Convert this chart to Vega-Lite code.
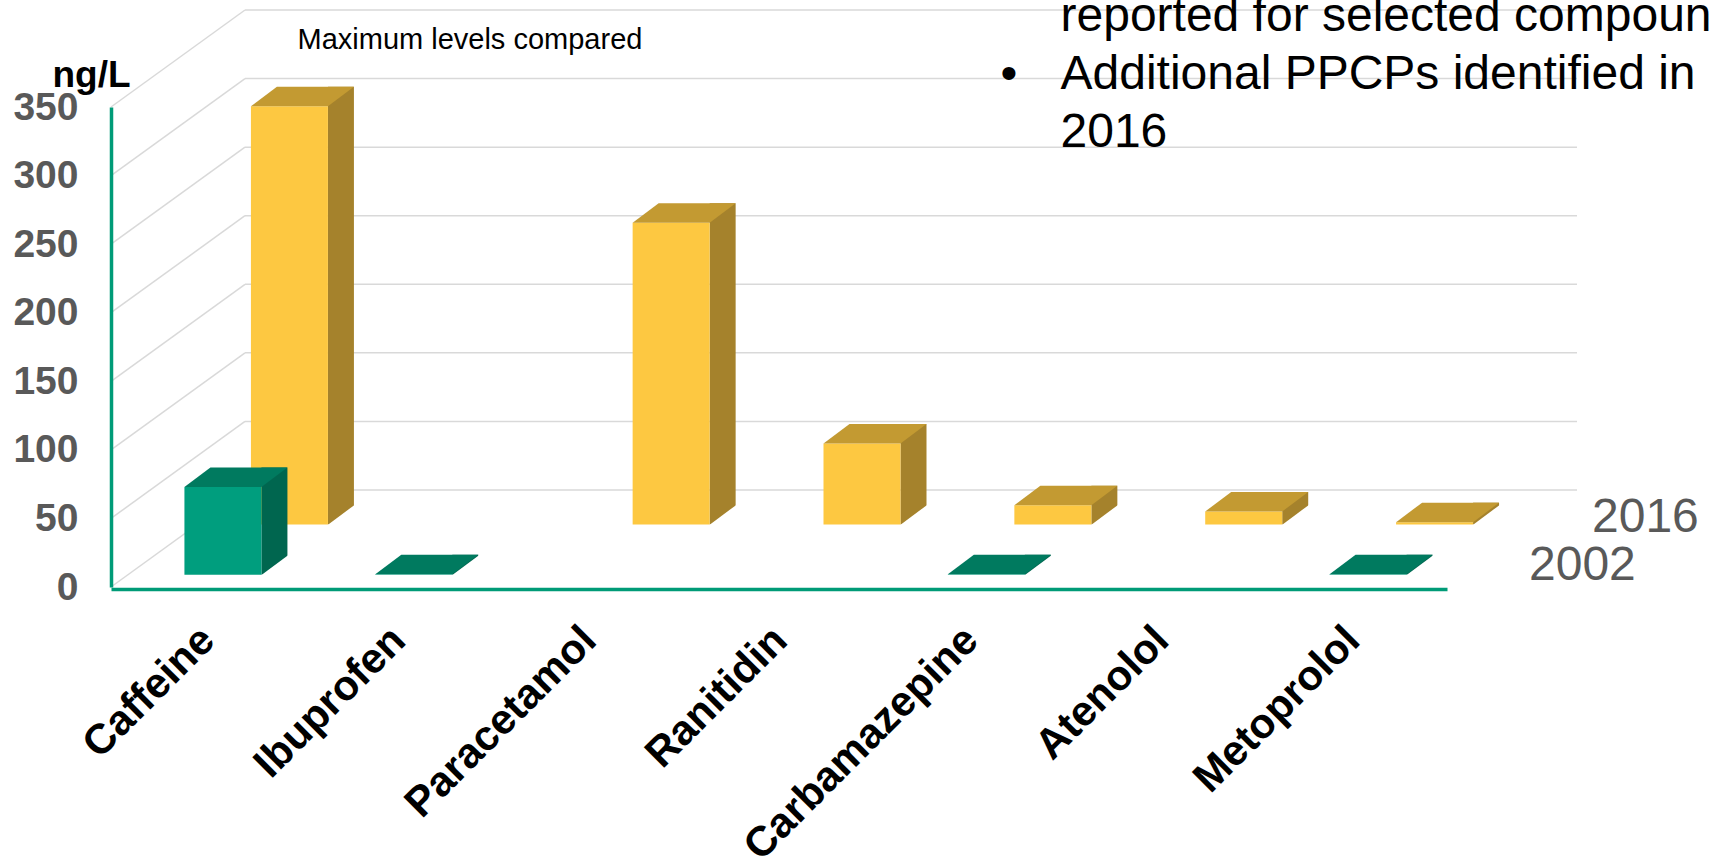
{
  "$schema": "https://vega.github.io/schema/vega-lite/v6.json",
  "autosize": {"type": "none"},
  "width": 1336,
  "height": 480,
  "padding": {"left": 111, "top": 107, "right": 263, "bottom": 269},
  "background": "white",
  "config": {
    "view": {"stroke": null},
    "font": "Liberation Sans",
    "axis": {"labelFont": "Liberation Sans", "titleFont": "Liberation Sans"},
    "text": {"font": "Liberation Sans"}
  },
  "datasets": {
    "levels": [
      {"compound": "Caffeine", "year": "2002", "value": 64},
      {"compound": "Ibuprofen", "year": "2002", "value": 0.4},
      {"compound": "Carbamazepine", "year": "2002", "value": 0.4},
      {"compound": "Metoprolol", "year": "2002", "value": 0.4},
      {"compound": "Caffeine", "year": "2016", "value": 305},
      {"compound": "Paracetamol", "year": "2016", "value": 220},
      {"compound": "Ranitidin", "year": "2016", "value": 59},
      {"compound": "Carbamazepine", "year": "2016", "value": 14},
      {"compound": "Atenolol", "year": "2016", "value": 9.5},
      {"compound": "Metoprolol", "year": "2016", "value": 1.7}
    ],
    "grid": [
      {"level": 0}, {"level": 50}, {"level": 100}, {"level": 150},
      {"level": 200}, {"level": 250}, {"level": 300}, {"level": 350}
    ]
  },
  "data": {"name": "levels"},
  "resolve": {"axis": {"x": "independent", "y": "independent"}},
  "layer": [
    {
      "description": "left wall gridlines running back in depth",
      "data": {"name": "grid"},
      "mark": {"type": "rule", "color": "#D9D9D9", "strokeWidth": 1.5, "x2Offset": 134, "y2Offset": -97},
      "encoding": {
        "x": {"datum": "Caffeine", "type": "nominal", "bandPosition": 0, "axis": null,
              "scale": {"type": "band", "domain": ["Caffeine", "Ibuprofen", "Paracetamol", "Ranitidin", "Carbamazepine", "Atenolol", "Metoprolol"], "paddingInner": 0, "paddingOuter": 0}},
        "x2": {"datum": "Caffeine", "bandPosition": 0},
        "y": {"field": "level", "type": "quantitative", "axis": null, "scale": {"domain": [0, 350], "nice": false}},
        "y2": {"field": "level"}
      }
    },
    {
      "description": "back wall gridlines",
      "data": {"name": "grid"},
      "mark": {"type": "rule", "color": "#D9D9D9", "strokeWidth": 1.5, "xOffset": 134, "x2Offset": 130, "yOffset": -97},
      "encoding": {
        "x": {"datum": "Caffeine", "type": "nominal", "bandPosition": 0, "axis": null,
              "scale": {"type": "band", "domain": ["Caffeine", "Ibuprofen", "Paracetamol", "Ranitidin", "Carbamazepine", "Atenolol", "Metoprolol"], "paddingInner": 0, "paddingOuter": 0}},
        "x2": {"datum": "Metoprolol", "bandPosition": 1},
        "y": {"field": "level", "type": "quantitative", "scale": {"domain": [0, 350], "nice": false},
              "axis": {"orient": "right", "zindex": 1, "labels": false, "ticks": false, "domain": false, "grid": false,
                       "title": ["reported for selected compounds", "Additional PPCPs identified in", "2016"],
                       "titleAngle": 0, "titleAlign": "left", "titleBaseline": "alphabetic",
                       "titleX": -387, "titleY": -77, "titleFontSize": 48, "titleFontWeight": "normal",
                       "titleColor": "#000000", "titleLineHeight": 58}}
      }
    },
    {
      "description": "2016 series: side faces",
      "transform": [{"filter": "datum.year === '2016'"}],
      "mark": {"type": "bar", "width": 26, "xOffset": 134.5, "yOffset": -82, "y2Offset": -62.5, "color": "#A5822C"},
      "encoding": {
        "x": {"field": "compound", "type": "nominal", "axis": null,
              "scale": {"type": "band", "domain": ["Caffeine", "Ibuprofen", "Paracetamol", "Ranitidin", "Carbamazepine", "Atenolol", "Metoprolol"], "paddingInner": 0, "paddingOuter": 0}},
        "y": {"field": "value", "type": "quantitative", "axis": null, "scale": {"domain": [0, 350], "nice": false}},
        "y2": {"datum": 0}
      }
    },
    {
      "description": "2016 series: front faces",
      "transform": [{"filter": "datum.year === '2016'"}],
      "mark": {"type": "bar", "width": 77, "xOffset": 83, "yOffset": -62.5, "y2Offset": -62.5, "color": "#FDC841"},
      "encoding": {
        "x": {"field": "compound", "type": "nominal",
              "scale": {"type": "band", "domain": ["Caffeine", "Ibuprofen", "Paracetamol", "Ranitidin", "Carbamazepine", "Atenolol", "Metoprolol"], "paddingInner": 0, "paddingOuter": 0},
              "axis": {"orient": "top", "labels": false, "ticks": false, "domain": false, "grid": false,
                       "title": "Maximum levels compared", "titleX": 186, "titleY": -59,
                       "titleAlign": "left", "titleBaseline": "alphabetic", "titleFontSize": 29,
                       "titleFontWeight": "normal", "titleColor": "#000000"}},
        "y": {"field": "value", "type": "quantitative", "axis": null, "scale": {"domain": [0, 350], "nice": false}},
        "y2": {"datum": 0}
      }
    },
    {
      "description": "2016 series: top faces",
      "transform": [{"filter": "datum.year === '2016'"}],
      "mark": {"type": "point", "shape": "M-38.5,0L38.5,0L64.5,-19.5L-12.5,-19.5Z", "size": 4, "filled": true,
               "opacity": 1, "strokeWidth": 0, "color": "#C39A32", "xOffset": 83, "yOffset": -62.5},
      "encoding": {
        "x": {"field": "compound", "type": "nominal", "axis": null,
              "scale": {"type": "band", "domain": ["Caffeine", "Ibuprofen", "Paracetamol", "Ranitidin", "Carbamazepine", "Atenolol", "Metoprolol"], "paddingInner": 0, "paddingOuter": 0}},
        "y": {"field": "value", "type": "quantitative", "axis": null, "scale": {"domain": [0, 350], "nice": false}}
      }
    },
    {
      "description": "2016 series: trims the foot of each side face",
      "transform": [{"filter": "datum.year === '2016'"}],
      "mark": {"type": "point", "shape": "M37.2,1.2L66.5,1.2L66.5,-20.6Z", "size": 4, "filled": true,
               "opacity": 1, "strokeWidth": 0, "color": "#FFFFFF", "xOffset": 83, "yOffset": -62.5},
      "encoding": {
        "x": {"field": "compound", "type": "nominal", "axis": null,
              "scale": {"type": "band", "domain": ["Caffeine", "Ibuprofen", "Paracetamol", "Ranitidin", "Carbamazepine", "Atenolol", "Metoprolol"], "paddingInner": 0, "paddingOuter": 0}},
        "y": {"datum": 0, "type": "quantitative", "axis": null, "scale": {"domain": [0, 350], "nice": false}}
      }
    },
    {
      "description": "2002 series: side faces",
      "transform": [{"filter": "datum.year === '2002'"}],
      "mark": {"type": "bar", "width": 26, "xOffset": 68, "yOffset": -31.7, "y2Offset": -12.2, "color": "#00664F"},
      "encoding": {
        "x": {"field": "compound", "type": "nominal", "axis": null,
              "scale": {"type": "band", "domain": ["Caffeine", "Ibuprofen", "Paracetamol", "Ranitidin", "Carbamazepine", "Atenolol", "Metoprolol"], "paddingInner": 0, "paddingOuter": 0}},
        "y": {"field": "value", "type": "quantitative", "axis": null, "scale": {"domain": [0, 350], "nice": false}},
        "y2": {"datum": 0}
      }
    },
    {
      "description": "2002 series: front faces, carries the main axes",
      "transform": [{"filter": "datum.year === '2002'"}],
      "mark": {"type": "bar", "width": 77, "xOffset": 16.5, "yOffset": -12.2, "y2Offset": -12.2, "color": "#009E7E"},
      "encoding": {
        "x": {"field": "compound", "type": "nominal",
              "scale": {"type": "band", "domain": ["Caffeine", "Ibuprofen", "Paracetamol", "Ranitidin", "Carbamazepine", "Atenolol", "Metoprolol"], "paddingInner": 0, "paddingOuter": 0},
              "axis": {"orient": "bottom", "zindex": 1, "offset": 2, "domainColor": "#009B77", "domainWidth": 3.5,
                       "ticks": false, "grid": false, "labelAngle": -45, "labelAlign": "right", "labelBaseline": "top",
                       "labelFontSize": 42, "labelFontWeight": "bold", "labelColor": "#000000",
                       "labelPadding": 30, "labelOffset": -13, "labelOverlap": false, "labelBound": false, "labelLimit": 0,
                       "title": "•", "titleX": 897.5, "titleY": -500.7, "titleAlign": "center",
                       "titleBaseline": "alphabetic", "titleFontSize": 48, "titleFontWeight": "normal",
                       "titleColor": "#000000"}},
        "y": {"field": "value", "type": "quantitative", "scale": {"domain": [0, 350], "nice": false},
              "axis": {"orient": "left", "zindex": 1, "values": [0, 50, 100, 150, 200, 250, 300, 350],
                       "domainColor": "#009B77", "domainWidth": 3.5, "ticks": false, "grid": false,
                       "labelPadding": 33, "labelFontSize": 39, "labelFontWeight": "bold", "labelColor": "#595959",
                       "labelOverlap": false, "labelFlush": false, "labelBound": false,
                       "title": "ng/L", "titleAngle": 0, "titleAlign": "center", "titleBaseline": "alphabetic",
                       "titleX": -20, "titleY": -21, "titleFontSize": 37, "titleFontWeight": "bold",
                       "titleColor": "#000000"}},
        "y2": {"datum": 0}
      }
    },
    {
      "description": "2002 series: top faces",
      "transform": [{"filter": "datum.year === '2002'"}],
      "mark": {"type": "point", "shape": "M-38.5,0L38.5,0L64.5,-19.5L-12.5,-19.5Z", "size": 4, "filled": true,
               "opacity": 1, "strokeWidth": 0, "color": "#007A5F", "xOffset": 16.5, "yOffset": -12.2},
      "encoding": {
        "x": {"field": "compound", "type": "nominal", "axis": null,
              "scale": {"type": "band", "domain": ["Caffeine", "Ibuprofen", "Paracetamol", "Ranitidin", "Carbamazepine", "Atenolol", "Metoprolol"], "paddingInner": 0, "paddingOuter": 0}},
        "y": {"field": "value", "type": "quantitative", "axis": null, "scale": {"domain": [0, 350], "nice": false}}
      }
    },
    {
      "description": "2002 series: trims the foot of each side face",
      "transform": [{"filter": "datum.year === '2002'"}],
      "mark": {"type": "point", "shape": "M37.2,1.2L66.5,1.2L66.5,-20.6Z", "size": 4, "filled": true,
               "opacity": 1, "strokeWidth": 0, "color": "#FFFFFF", "xOffset": 16.5, "yOffset": -12.2},
      "encoding": {
        "x": {"field": "compound", "type": "nominal", "axis": null,
              "scale": {"type": "band", "domain": ["Caffeine", "Ibuprofen", "Paracetamol", "Ranitidin", "Carbamazepine", "Atenolol", "Metoprolol"], "paddingInner": 0, "paddingOuter": 0}},
        "y": {"datum": 0, "type": "quantitative", "axis": null, "scale": {"domain": [0, 350], "nice": false}}
      }
    },
    {
      "description": "series label for the back row",
      "transform": [{"filter": "datum.year === '2016' && datum.compound === 'Metoprolol'"}],
      "mark": {"type": "text", "align": "left", "baseline": "alphabetic", "dx": 145, "dy": -55,
               "fontSize": 48, "color": "#595959"},
      "encoding": {
        "x": {"field": "compound", "type": "nominal", "bandPosition": 1, "axis": null,
              "scale": {"type": "band", "domain": ["Caffeine", "Ibuprofen", "Paracetamol", "Ranitidin", "Carbamazepine", "Atenolol", "Metoprolol"], "paddingInner": 0, "paddingOuter": 0}},
        "y": {"datum": 0, "type": "quantitative", "axis": null, "scale": {"domain": [0, 350], "nice": false}},
        "text": {"field": "year"}
      }
    },
    {
      "description": "series label for the front row",
      "transform": [{"filter": "datum.year === '2002' && datum.compound === 'Metoprolol'"}],
      "mark": {"type": "text", "align": "left", "baseline": "alphabetic", "dx": 82, "dy": -7,
               "fontSize": 48, "color": "#595959"},
      "encoding": {
        "x": {"field": "compound", "type": "nominal", "bandPosition": 1, "axis": null,
              "scale": {"type": "band", "domain": ["Caffeine", "Ibuprofen", "Paracetamol", "Ranitidin", "Carbamazepine", "Atenolol", "Metoprolol"], "paddingInner": 0, "paddingOuter": 0}},
        "y": {"datum": 0, "type": "quantitative", "axis": null, "scale": {"domain": [0, 350], "nice": false}},
        "text": {"field": "year"}
      }
    }
  ]
}
